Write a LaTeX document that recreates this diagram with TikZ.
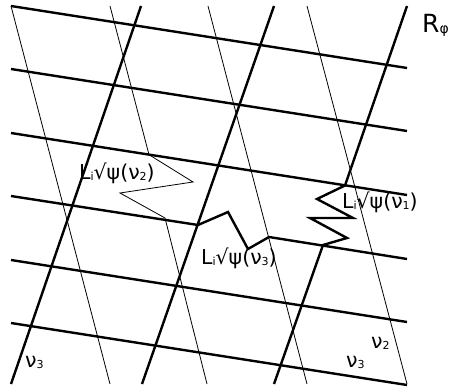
\documentclass[tikz,border=0pt]{standalone}
\usepackage{fontspec}
\setmainfont{DejaVu Sans}
\newcommand{\mysub}[1]{\raisebox{-1pt}{\fontsize{11}{11}\selectfont #1}}
\newcommand{\bigsub}[1]{\raisebox{-1pt}{\fontsize{14}{14}\selectfont #1}}
\begin{document}
\begin{tikzpicture}[x=1pt,y=-1pt,
  thickln/.style={line width=2.4pt,line join=miter},
  thinln/.style={line width=0.8pt},
  lbl/.style={anchor=base west,inner sep=0pt,font=\fontsize{20.5}{22}\selectfont},
  rlbl/.style={anchor=base west,inner sep=0pt,font=\fontsize{25}{27}\selectfont}]
\useasboundingbox (0,0) rectangle (454,387);
% thin steep lines
\draw[thinln] (11,6) -- (110,384);
\draw[thinln] (110,6) -- (149,154.7) -- (193,182) -- (120,193) -- (165,218) -- (207,384);
\draw[thinln] (208,6) -- (307,384);
\draw[thinln] (307,6) -- (407,384);
% thick rising lines
\draw[thickln] (11,384) -- (141,6);
\draw[thickln] (142,384) -- (274,6);
\draw[thickln] (407,6) -- (345,185.5) -- (317,199) -- (353,218) -- (310,218) -- (347,238) -- (323,245) -- (274,384);
% thick falling lines
\draw[thickln] (11,6) -- (407,68);
\draw[thickln] (11,69) -- (407,131);
\draw[thickln] (11,133) -- (407,195);
\draw[thickln] (11,196) -- (198,225) -- (228,212) -- (248,249) -- (269,237) -- (407,259);
\draw[thickln] (11,260) -- (407,322);
\draw[thickln] (11,323) -- (407,385);
% labels
\node[rlbl] (r) at (422,33) {R\bigsub{φ}};
\node[lbl] (l2) at (79,179) {L\mysub{i}√ψ(ν\mysub{2})};
\node[lbl] (l1) at (342,208) {L\mysub{i}√ψ(ν\mysub{1})};
\node[lbl] (l3) at (201,264) {L\mysub{i}√ψ(ν\mysub{3})};
\node[lbl] (a) at (25,367) {ν\mysub{3}};
\node[lbl] (b) at (371,348) {ν\mysub{2}};
\node[lbl] (c) at (346,367) {ν\mysub{3}};
\end{tikzpicture}
\end{document}
